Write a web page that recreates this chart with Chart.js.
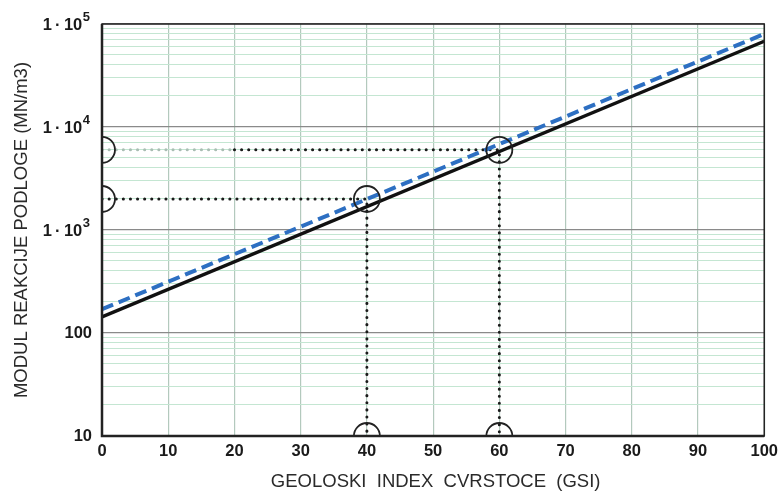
<!DOCTYPE html>
<html>
<head>
<meta charset="utf-8">
<script src="https://cdn.jsdelivr.net/npm/chart.js@4.4.1/dist/chart.umd.min.js"></script>
<style>
  html, body { margin: 0; padding: 0; background: #fff; }
  #wrap { width: 784px; height: 491px; }
</style>
</head>
<body>
<div id="wrap"><canvas id="c"></canvas></div>
<script>
/* GSI vs modul reakcije podloge — log chart */

// x range
var gsiEnds = [0, 100];
var blackVals = [143, 68000];
var blueVals = [170, 80000];

// dotted guide lines
var guideLowX = [0, 40, 40];
var guideLowY = [2000, 2000, 10];
var guideHighX = [0, 20, 60, 60];
var guideHighY = [6000, 6000, 6000, 10];

// open circles
var circleX = [0, 0, 40, 60, 40, 60];
var circleY = [6000, 2000, 2000, 6000, 10, 10];

var xTicks = [0, 10, 20, 30, 40, 50, 60, 70, 80, 90, 100];
var yDecades = [10, 100, 1000, 10000, 100000];
var yPlainLabels = ['10', '100'];
var yPowerValues = [1000, 10000, 100000];
var yPowerExps = ['3', '4', '5'];

var FONT = "'Liberation Sans', Arial, sans-serif";

function pts(xs, ys) {
  return xs.map(function (x, i) { return { x: x, y: ys[i] }; });
}

function isDecade(v) {
  return yDecades.indexOf(v) !== -1;
}

/* frame round the plot */
var frame = {
  id: 'frame',
  afterDraw: function (chart) {
    var a = chart.chartArea, ctx = chart.ctx;
    ctx.save();
    ctx.strokeStyle = '#222';
    ctx.lineWidth = 1.5;
    ctx.strokeRect(a.left, a.top, a.right - a.left, a.bottom - a.top);
    ctx.lineWidth = 2.5;
    ctx.beginPath();
    ctx.moveTo(a.left, a.top);
    ctx.lineTo(a.left, a.bottom);
    ctx.lineTo(a.right, a.bottom);
    ctx.stroke();
    ctx.restore();
  }
};

/* open circles, clipped to the plot area */
var rings = {
  id: 'rings',
  afterDatasetsDraw: function (chart) {
    var a = chart.chartArea, ctx = chart.ctx;
    var xs = chart.scales.x, ys = chart.scales.y;
    ctx.save();
    ctx.beginPath();
    ctx.rect(a.left, a.top, a.right - a.left, a.bottom - a.top);
    ctx.clip();
    ctx.strokeStyle = '#222';
    ctx.lineWidth = 1.8;
    circleX.forEach(function (x, i) {
      ctx.beginPath();
      ctx.arc(xs.getPixelForValue(x), ys.getPixelForValue(circleY[i]), 13, 0, Math.PI * 2);
      ctx.stroke();
    });
    ctx.restore();
  }
};

/* 1·10ⁿ labels with a raised exponent */
var powerLabels = {
  id: 'powerLabels',
  afterDraw: function (chart) {
    var ctx = chart.ctx, ys = chart.scales.y;
    var right = chart.chartArea.left - 12;
    ctx.save();
    ctx.fillStyle = '#1a1a1a';
    ctx.textBaseline = 'middle';
    yPowerValues.forEach(function (v, i) {
      var py = ys.getPixelForValue(v) + 1.5;
      ctx.font = 'bold 13px ' + FONT;
      var ew = ctx.measureText(yPowerExps[i]).width;
      ctx.textAlign = 'left';
      ctx.fillText(yPowerExps[i], right - ew, py - 8);
      ctx.font = 'bold 16.5px ' + FONT;
      ctx.textAlign = 'right';
      ctx.fillText('1\u2009\u00B7\u200910', right - ew - 0.5, py);
    });
    ctx.restore();
  }
};

var dotted = {
  borderColor: '#1a1a1a',
  borderWidth: 3,
  borderDash: [0.1, 7],
  borderCapStyle: 'round',
  pointRadius: 0,
  fill: false,
  tension: 0
};

new Chart(document.getElementById('c'), {
  type: 'line',
  data: {
    datasets: [
      Object.assign({ data: pts(guideLowX, guideLowY), order: 3 }, dotted),
      Object.assign({
        data: pts(guideHighX, guideHighY), order: 3,
        segment: { borderColor: function (s) { return s.p0.parsed.x < 20 ? '#a9bdb3' : '#1a1a1a'; } }
      }, dotted),
      {
        data: pts(gsiEnds, blackVals),
        borderColor: '#111',
        borderWidth: 3.5,
        pointRadius: 0,
        order: 2
      },
      {
        data: pts(gsiEnds, blueVals),
        borderColor: '#2d6fc2',
        borderWidth: 4,
        borderDash: [12, 6],
        pointRadius: 0,
        order: 1
      }
    ]
  },
  options: {
    responsive: true,
    maintainAspectRatio: false,
    animation: false,
    layout: { padding: { left: 0, right: 19, top: 24, bottom: 0 } },
    plugins: { legend: { display: false }, tooltip: { enabled: false } },
    scales: {
      x: {
        type: 'linear',
        min: 0,
        max: 100,
        afterBuildTicks: function (s) { s.ticks = xTicks.map(function (v) { return { value: v }; }); },
        afterFit: function (s) { s.height = 55; },
        grid: { color: '#b3c9bd', lineWidth: 1.2, drawTicks: false },
        border: { display: false },
        ticks: {
          padding: 6,
          color: '#1a1a1a',
          font: { family: FONT, size: 16.5, weight: 'bold' },
          autoSkip: false,
          maxRotation: 0
        },
        title: {
          display: true,
          text: ' GEOLOSKI  INDEX  CVRSTOCE  (GSI)',
          color: '#2a2a2a',
          font: { family: FONT, size: 18.5 },
          padding: { top: 0, bottom: -2 }
        }
      },
      y: {
        type: 'logarithmic',
        min: 10,
        max: 100000,
        afterBuildTicks: function (s) {
          var t = [];
          for (var d = 10; d < 100000; d *= 10) {
            for (var m = 1; m < 10; m++) t.push({ value: d * m });
          }
          t.push({ value: 100000 });
          s.ticks = t;
        },
        afterFit: function (s) { s.width = 102; },
        grid: {
          drawTicks: false,
          color: function (c) { return c.tick && isDecade(c.tick.value) ? '#8a8a8a' : '#c4e6d2'; },
          lineWidth: function (c) { return c.tick && isDecade(c.tick.value) ? 1.3 : 1.1; }
        },
        border: { display: false },
        ticks: {
          padding: 10,
          color: '#1a1a1a',
          autoSkip: false,
          font: { family: FONT, size: 16.5, weight: 'bold' },
          callback: function (v) {
            var i = yDecades.indexOf(v);
            return i === 0 || i === 1 ? yPlainLabels[i] : '';
          }
        },
        title: {
          display: true,
          text: 'MODUL REAKCIJE PODLOGE (MN/m3)',
          color: '#2a2a2a',
          font: { family: FONT, size: 18.5 },
          padding: { top: 11, bottom: 0 }
        }
      }
    }
  },
  plugins: [frame, rings, powerLabels]
});
</script>
</body>
</html>
